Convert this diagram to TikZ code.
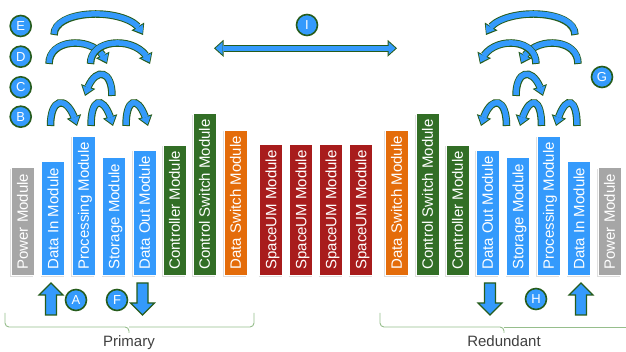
\documentclass[tikz,border=0pt]{standalone}
\usepackage{fontspec}
\setmainfont{Liberation Sans}
\usetikzlibrary{arrows.meta,bending,shadows,calc}
\definecolor{cblue}{RGB}{52,154,252}
\definecolor{cgreen}{RGB}{50,110,38}
\definecolor{agreen}{RGB}{38,92,28}
\definecolor{corange}{RGB}{228,108,10}
\definecolor{cred}{RGB}{168,28,28}
\definecolor{cgray}{RGB}{166,166,166}
\definecolor{brkcol}{RGB}{150,190,140}
\definecolor{lblcol}{RGB}{64,64,64}
\tikzset{
  mod/.style={rotate=90, anchor=west, minimum height=23pt, inner xsep=6pt, inner ysep=0pt,
    text height=10.8pt, text depth=0pt, text=white, font=\fontsize{15}{18}\selectfont,
    draw=white, line width=0.8pt,
    drop shadow={shadow xshift=-1pt, shadow yshift=-1pt, opacity=0.25}},
  letter/.style={circle, fill=cblue, draw=agreen, line width=1.6pt, minimum size=21pt,
    inner sep=0pt, text=white, font=\fontsize{13}{13}\selectfont},
  arcout/.style={draw=agreen, line width=7.5pt, -{Triangle[flex, width=15pt, length=10pt, line width=0pt]}},
  arcin/.style={draw=cblue, line width=5.5pt, shorten <=1pt, shorten >=1.67pt,
    -{Triangle[flex, width=11pt, length=7.3pt, line width=0pt]}},
  barout/.style={draw=agreen, line width=7.5pt,
    {Triangle[width=17pt, length=9.5pt, line width=0pt]}-{Triangle[width=17pt, length=9.5pt, line width=0pt]}},
  barin/.style={draw=cblue, line width=5.5pt, shorten <=1.5pt, shorten >=1.5pt,
    {Triangle[width=12.5pt, length=7pt, line width=0pt]}-{Triangle[width=12.5pt, length=7pt, line width=0pt]}},
  blk/.style={draw=agreen, fill=cblue, line width=1.2pt, line join=miter},
  brkline/.style={draw=brkcol, line width=0.9pt, rounded corners=4pt},
  lbl/.style={text=lblcol, font=\fontsize{15}{18}\selectfont, anchor=base, inner sep=0pt}
}
% #1 leg x, #2 tip x, #3 bottom y (px from top), #4 control height
\newcommand\ArcArrow[4]{%
  \pgfmathsetmacro\ArcS{(#2>#1) ? -1 : 1}%
  \pgfmathsetmacro\ArcY{352-#3}%
  \pgfmathsetmacro\ArcH{\ArcY+#4}%
  \pgfmathsetmacro\ArcDx{#2+\ArcS*0.25*#4}%
  \draw[arcout] (#1,\ArcY) .. controls (#1,\ArcH) and (\ArcDx,\ArcH) .. (#2,\ArcY);
  \draw[arcin] (#1,\ArcY) .. controls (#1,\ArcH) and (\ArcDx,\ArcH) .. (#2,\ArcY);
}
% vertical block arrows: #1 x, #2 tail y
\newcommand\UpBlock[2]{\draw[blk] (#1,#2) ++(-5.5,0) -- ++(0,20) -- ++(-6.5,0) -- ++(12,12) -- ++(12,-12) -- ++(-6.5,0) -- ++(0,-20) -- cycle;}
\newcommand\DownBlock[2]{\draw[blk] (#1,#2) ++(-5.5,0) -- ++(0,-20) -- ++(-6.5,0) -- ++(12,-12) -- ++(12,12) -- ++(-6.5,0) -- ++(0,20) -- cycle;}

\begin{document}
\begin{tikzpicture}[x=1pt, y=1pt]
\fill[white] (0,0) rectangle (626,352);
\useasboundingbox (0,0) rectangle (626,352);

% primary modules
\node[mod, fill=cgray]   (lpow)  at (22.5,76)  {Power Module};
\node[mod, fill=cblue]   (lin)   at (53,76)    {Data In Module};
\node[mod, fill=cblue]   (lproc) at (83.5,76)  {Processing Module};
\node[mod, fill=cblue]   (lsto)  at (114,76)   {Storage Module};
\node[mod, fill=cblue]   (lout)  at (144.5,76) {Data Out Module};
\node[mod, fill=cgreen]  (lctl)  at (174.5,76) {Controller Module};
\node[mod, fill=cgreen]  (lcsw)  at (204.5,76) {Control Switch Module};
\node[mod, fill=corange] (ldsw)  at (235.5,76) {Data Switch Module};
% SpaceUM modules
\node[mod, fill=cred] (su1) at (271,76) {SpaceUM Module};
\node[mod, fill=cred] (su2) at (301,76) {SpaceUM Module};
\node[mod, fill=cred] (su3) at (331,76) {SpaceUM Module};
\node[mod, fill=cred] (su4) at (361,76) {SpaceUM Module};
% redundant modules
\node[mod, fill=corange] (rdsw)  at (396.5,76) {Data Switch Module};
\node[mod, fill=cgreen]  (rcsw)  at (427.5,76) {Control Switch Module};
\node[mod, fill=cgreen]  (rctl)  at (457.5,76) {Controller Module};
\node[mod, fill=cblue]   (rout)  at (487.5,76) {Data Out Module};
\node[mod, fill=cblue]   (rsto)  at (518,76)   {Storage Module};
\node[mod, fill=cblue]   (rproc) at (548.5,76) {Processing Module};
\node[mod, fill=cblue]   (rin)   at (579,76)   {Data In Module};
\node[mod, fill=cgray]   (rpow)  at (609.5,76) {Power Module};

% left arcs
\ArcArrow{54}{143}{35}{28}
\ArcArrow{49}{107}{64}{28}
\ArcArrow{90.5}{150}{64}{28}
\ArcArrow{112}{85}{96}{29}
\ArcArrow{50.5}{77}{126}{31}
\ArcArrow{91}{113}{126}{31}
\ArcArrow{126}{148}{126}{31}
% right arcs
\ArcArrow{575}{486}{35}{28}
\ArcArrow{578}{521}{64}{28}
\ArcArrow{536}{480}{64}{28}
\ArcArrow{516}{543}{96}{29}
\ArcArrow{577}{556}{126}{31}
\ArcArrow{541.5}{520}{126}{31}
\ArcArrow{506.5}{481}{126}{31}

% double arrow
\coordinate (il) at (214,303.7);
\coordinate (ir) at (397,303.7);
\draw[barout] (il) -- (ir);
\draw[barin] (il) -- (ir);

% block arrows
\UpBlock{51}{37}
\DownBlock{142.5}{69}
\DownBlock{490}{69}
\UpBlock{581}{37}

% letters
\node[letter] (E) at (20.7,326) {E};
\node[letter] (D) at (20.7,295.3) {D};
\node[letter] (C) at (20.7,264.7) {C};
\node[letter] (B) at (20.7,235.3) {B};
\node[letter] (A) at (76,52) {A};
\node[letter] (F) at (117,52) {F};
\node[letter] (H) at (536,53) {H};
\node[letter] (G) at (602,275) {G};
\node[letter] (I) at (307,327) {I};

% brackets
\draw[brkline] (5,39) |- (129,25) -- (129,19);
\draw[brkline] (129,25) -| (254,39);
\draw[brkline] (380,39) |- (504,25) -- (504,19);
\draw[brkline] (504,25) -- (627,25);
\node[lbl] (prim) at (129,5) {Primary};
\node[lbl] (red) at (504,5) {Redundant};
\end{tikzpicture}
\end{document}
